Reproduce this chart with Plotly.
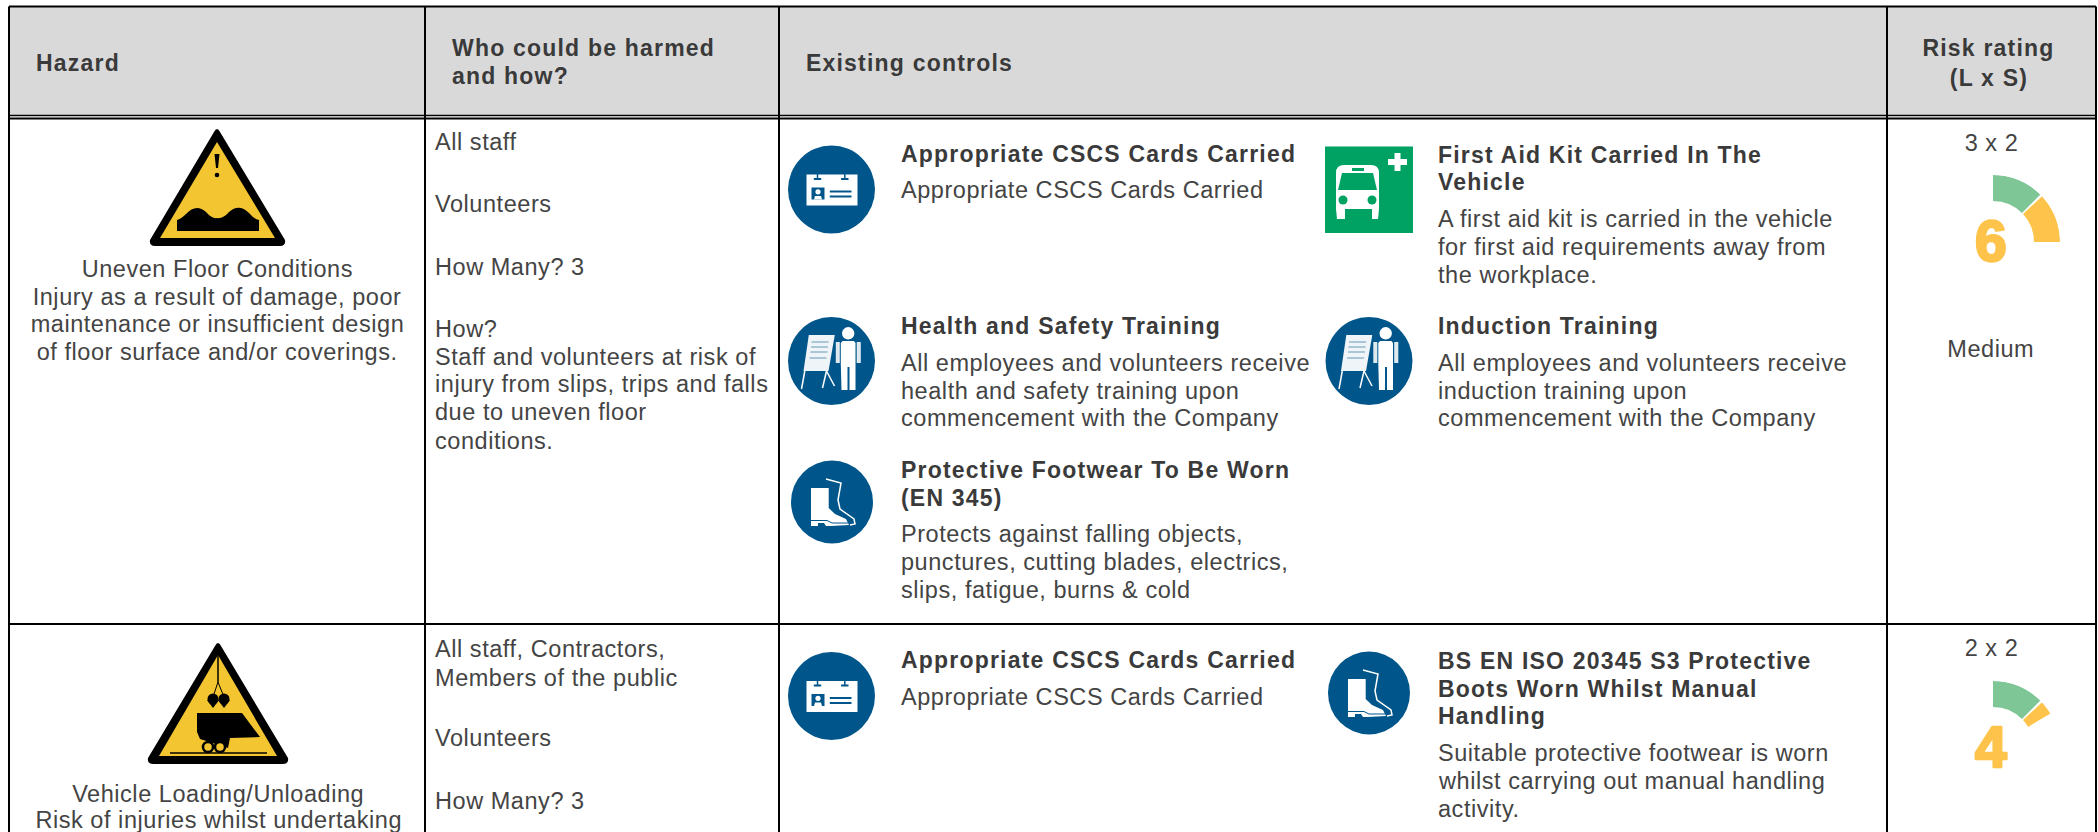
import plotly.graph_objects as go

# ---------- content ----------
header_labels = ["Hazard", "Who could be harmed", "and how?", "Existing controls", "Risk rating", "(L x S)"]
hazard_1 = ["Uneven Floor Conditions", "Injury as a result of damage, poor",
            "maintenance or insufficient design", "of floor surface and/or coverings."]
hazard_2 = ["Vehicle Loading/Unloading", "Risk of injuries whilst undertaking"]
who_1 = ["All staff", "Volunteers", "How Many? 3", "How?", "Staff and volunteers at risk of",
         "injury from slips, trips and falls", "due to uneven floor", "conditions."]
who_2 = ["All staff, Contractors,", "Members of the public", "Volunteers", "How Many? 3"]
control_titles = [["Appropriate CSCS Cards Carried"],
                  ["First Aid Kit Carried In The", "Vehicle"],
                  ["Health and Safety Training"],
                  ["Induction Training"],
                  ["Protective Footwear To Be Worn", "(EN 345)"],
                  ["Appropriate CSCS Cards Carried"],
                  ["BS EN ISO 20345 S3 Protective", "Boots Worn Whilst Manual", "Handling"]]
control_bodies = [["Appropriate CSCS Cards Carried"],
                  ["A first aid kit is carried in the vehicle", "for first aid requirements away from", "the workplace."],
                  ["All employees and volunteers receive", "health and safety training upon", "commencement with the Company"],
                  ["All employees and volunteers receive", "induction training upon", "commencement with the Company"],
                  ["Protects against falling objects,", "punctures, cutting blades, electrics,", "slips, fatigue, burns & cold"],
                  ["Appropriate CSCS Cards Carried"],
                  ["Suitable protective footwear is worn", "whilst carrying out manual handling", "activity."]]
rating_labels = ["3 x 2", "2 x 2"]
rating_scores = ["6", "4"]
rating_words = ["Medium", ""]
gauge_green = [[0, 45], [0, 45]]
gauge_yellow = [[47, 90], [47, 59]]

# ---------- layout constants ----------
W, H = 2098, 832
col_x = [9, 425, 779, 1887, 2096]
top_y, head_y1, head_y2, row_y = 6.5, 115.5, 118.5, 624
INK, BODY, BLUE, GREEN, YELLOW, SAFE, SIGN = "#3a3a3a", "#444444", "#00558a", "#7fc697", "#fec34a", "#00a263", "#f2c531"
BF, TF = 23.5, 23

shapes, annots = [], []


def text(s, x, y, size=BF, color=BODY, bold=False, anchor="left"):
    if s:
        annots.append(dict(text=s, x=x, y=y + (0.8 if size < 40 else 0), xref="x", yref="y", xanchor=anchor,
                           yanchor="middle", align=anchor, showarrow=False, borderpad=0,
                           font=dict(family="Liberation Sans", size=size, color=color, weight=700 if bold else 400)))


def path(d, fill="#ffffff", line=None, width=0):
    shapes.append(dict(type="path", path=d, xref="x", yref="y", fillcolor=fill, layer="above",
                       line=dict(color=line or "rgba(0,0,0,0)", width=width)))


def poly(pts, cx=0, cy=0, fill="#ffffff", closed=True, line=None, width=0):
    d = "M" + " L".join(f"{cx+a:.1f},{cy+b:.1f}" for a, b in pts) + (" Z" if closed else "")
    path(d, fill if closed else "rgba(0,0,0,0)", line, width)


def circle(cx, cy, rx, ry=None, fill="#ffffff", line=None, width=0):
    ry = ry or rx
    shapes.append(dict(type="circle", x0=cx-rx, x1=cx+rx, y0=cy-ry, y1=cy+ry, xref="x", yref="y", layer="above",
                       fillcolor=fill, line=dict(color=line or "rgba(0,0,0,0)", width=width)))


def rect(x0, y0, x1, y1, fill="#ffffff"):
    shapes.append(dict(type="rect", x0=x0, x1=x1, y0=y0, y1=y1, xref="x", yref="y", layer="above",
                       fillcolor=fill, line=dict(width=0)))


def seg(x0, y0, x1, y1, color="#000000", width=2):
    shapes.append(dict(type="line", x0=x0, x1=x1, y0=y0, y1=y1, xref="x", yref="y", layer="above",
                       line=dict(color=color, width=width)))


# ---------- icons ----------
def card_icon(cx, cy):
    circle(cx, cy, 43.5, 44, BLUE)
    rect(cx-25, cy-15, cx+26, cy+16)
    for dx in (-14, 13.3):
        seg(cx+dx, cy-17, cx+dx, cy-11, BLUE, 1.5)
        seg(cx+dx-3.7, cy-10.5, cx+dx+3.7, cy-10.5, BLUE, 2)
    rect(cx-20, cy-2, cx-7, cy+10, BLUE)
    circle(cx-13.5, cy+2.3, 2.6)
    poly([(-17.5, 10), (-16.5, 6.5), (-10.5, 6.5), (-9.5, 10)], cx, cy)
    seg(cx-1.7, cy+2, cx+20, cy+2, BLUE, 2)
    seg(cx-1.7, cy+7, cx+20, cy+7, BLUE, 2)


def trainer_icon(cx, cy):
    circle(cx, cy, 43.5, 44, BLUE)
    poly([(-22.7, -26), (3.3, -26), (-3, 10), (-28, 10)], cx, cy, "#eef4f7")
    for yy, x0, x1 in ((-19, -20, -3), (-14, -20.5, -3.5), (-9, -21, -4), (-3, -22, -5)):
        seg(cx+x0, cy+yy, cx+x1, cy+yy, "#7fa7c0", 1.2)
    seg(cx-26.7, cy+10, cx-30, cy+28, "#ffffff", 1.5)
    seg(cx-5, cy+10, cx-9, cy+27, "#ffffff", 1.5)
    seg(cx-5, cy+10, cx+3, cy+25, "#ffffff", 1.5)
    circle(cx+16.7, cy-27.7, 6.2)
    poly([(11, -20), (22.5, -20), (24, -18), (24, 3), (24, 29), (18, 29), (18, 6), (16, 6), (16, 29), (10, 29), (9.3, 3), (9.3, -18)], cx, cy)
    poly([(4.3, -19), (8.3, -19), (8.3, 2), (4.3, 2)], cx, cy, "#dfeaf0")
    poly([(25.2, -19), (29.3, -19), (29.3, 2), (25.2, 2)], cx, cy, "#dfeaf0")


def boot_icon(cx, cy):
    circle(cx, cy, 41, 41.5, BLUE)
    poly([(-21, -14), (-3.3, -14), (-3.3, 6), (3, 12), (14, 17), (17, 23), (-1, 24), (-6, 24), (-8, 21), (-14, 21), (-14, 24), (-21, 24)], cx, cy)
    poly([(-6, -23), (9, -19), (6, -2), (8, 7), (22, 17), (23, 22), (18, 23)], cx, cy, closed=False, line="#ffffff", width=1.5)
    poly([(-21, 18.5), (-5, 18.5), (0, 21), (16, 21)], cx, cy, closed=False, line=BLUE, width=1)


def triangle(apex, left, right, bottom, inset_top, inset_bottom, inset_l, inset_r):
    ax, ay = apex
    path(f"M{ax-3},{ay+4} Q{ax},{ay-2} {ax+3},{ay+4} L{right},{bottom-6} Q{right+1},{bottom} {right-5},{bottom} "
         f"L{left+5},{bottom} Q{left-1},{bottom} {left},{bottom-6} Z", "#000000")
    poly([(ax, inset_top), (inset_r, inset_bottom), (inset_l, inset_bottom)], fill=SIGN)


# ---------- table frame ----------
shapes.append(dict(type="rect", x0=col_x[0], x1=col_x[-1], y0=top_y, y1=head_y1, xref="x", yref="y", layer="below",
                   fillcolor="#d9d9d9", line=dict(width=0)))
seg(col_x[0], top_y, col_x[-1], top_y)
seg(col_x[0], head_y1, col_x[-1], head_y1, width=1.5)
seg(col_x[0], head_y2, col_x[-1], head_y2, width=2)
seg(col_x[0], row_y, col_x[-1], row_y)
for cx_ in col_x:
    seg(cx_, top_y, cx_, H)

# ---------- header ----------
text(header_labels[0], 35, 62, TF, INK, True)
text(header_labels[1], 451, 47, TF, INK, True)
text(header_labels[2], 451, 75, TF, INK, True)
text(header_labels[3], 805, 62, TF, INK, True)
text(header_labels[4], 1988.5, 47, TF, INK, True, "center")
text(header_labels[5], 1989, 77, TF, INK, True, "center")

# ---------- hazard column ----------
for s, y in zip(hazard_1, (268, 296, 323, 351)):
    text(s, 217, y, anchor="center")
for s, y in zip(hazard_2, (793, 819)):
    text(s, 218, y, anchor="center")

triangle((217, 128), 150, 285, 246, 142, 238, 160, 275)
poly([(-2.5, 26), (2.5, 26), (1, 40), (-1, 40)], 217, 128, "#000000")
circle(217, 175, 2.3, fill="#000000")
path("M177,231 L177,220 Q181,219 186,214 Q196,203 206,212 Q212,219 217,218 Q223,219 229,212 "
     "Q239,203 249,213 Q254,219 259,220 L259,231 Z", "#000000")

triangle((218, 642), 148, 288, 764, 655, 756, 159, 277)
seg(218, 655, 218, 682, "#000000", 1.5)
seg(218, 682, 213, 697, "#000000", 1)
seg(218, 682, 224, 697, "#000000", 1)
poly([(-6, 0), (6, 0), (0, 8)], 213, 700, "#000000")
poly([(-6, 0), (6, 0), (0, 8)], 224, 700, "#000000")
circle(213, 699, 5.5, fill="#000000")
circle(224, 699, 5.5, fill="#000000")
poly([(197, 713), (242, 713), (260, 737), (230, 738), (228, 748), (200, 739), (197, 732)], fill="#000000")
for wx in (208, 220):
    circle(wx, 747, 5, fill=SIGN, line="#000000", width=2.5)
seg(170, 753, 267, 753, "#000000", 1.5)

# ---------- who column ----------
for s, y in zip(who_1, (141, 203, 266, 328, 356, 383, 411, 440)):
    text(s, 433.5, y)
for s, y in zip(who_2, (648, 677, 737, 800)):
    text(s, 433.5, y)

# ---------- controls ----------
left_x, right_x = 899.5, 1437
title_rows = [(153,), (154, 181), (325,), (325,), (469, 497), (659,), (660, 688, 715)]
body_rows = [(189,), (218, 246, 274), (362, 390, 417), (362, 390, 417), (533, 561, 589), (696,), (752, 780, 808)]
control_x = [left_x, right_x, left_x, right_x, left_x, left_x, right_x]
for ts, tys, bs, bys, x in zip(control_titles, title_rows, control_bodies, body_rows, control_x):
    for s, y in zip(ts, tys):
        text(s, x, y, TF, INK, True)
    for s, y in zip(bs, bys):
        text(s, x, y)

card_icon(831.5, 189.5)
trainer_icon(831.5, 361)
trainer_icon(1369, 361)
boot_icon(832, 502)
card_icon(831.5, 696)
boot_icon(1369, 693)

# first-aid vehicle sign
rect(1325, 146.5, 1413, 233, SAFE)
path("M1336,173 Q1336,165 1344,165 L1371,165 Q1379,165 1379,173 L1379,209 L1378,219 L1372,219 L1372,209 "
     "L1345,209 L1345,219 L1337,219 L1336,209 Z")
poly([(1342, 173), (1373, 173), (1377, 190), (1338, 190)], fill=SAFE)
rect(1352, 168, 1364, 171, SAFE)
circle(1343, 200, 4.5, fill=SAFE)
circle(1372, 200, 4.5, fill=SAFE)
rect(1394.5, 153, 1400.5, 171)
rect(1388, 159, 1407, 165)

# ---------- rating column ----------
gauge_centres = [(1993, 242), (1993, 748)]
GAUGE_R, GAUGE_IN = 67, 41
traces = [go.Scatter(x=[0, W], y=[0, H], mode="markers", marker=dict(opacity=0), hoverinfo="skip", showlegend=False)]
polar_layout = {}
for i, ((cx, cy), g, y_, lab, score, word, ys) in enumerate(zip(
        gauge_centres, gauge_green, gauge_yellow, rating_labels, rating_scores, rating_words,
        ((142, 241, 348), (647, 747, 0)))):
    key = "polar" if i == 0 else f"polar{i+1}"
    polar_layout[key] = dict(
        domain=dict(x=[(cx-GAUGE_R)/W, (cx+GAUGE_R)/W], y=[1-(cy+GAUGE_R)/H, 1-(cy-GAUGE_R)/H]),
        bgcolor="rgba(0,0,0,0)",
        radialaxis=dict(visible=False, range=[0, 1]),
        angularaxis=dict(visible=False, direction="clockwise", rotation=90))
    hole = GAUGE_IN / GAUGE_R
    traces.append(go.Barpolar(
        theta=[(g[0]+g[1])/2, (y_[0]+y_[1])/2], width=[g[1]-g[0], y_[1]-y_[0]],
        r=[1-hole, 1-hole], base=[hole, hole], marker=dict(color=[GREEN, YELLOW], line=dict(width=0)),
        subplot=key, showlegend=False, hoverinfo="skip"))
    text(lab, 1991.5, ys[0], anchor="center")
    text(score, 1991, ys[1], 57, YELLOW, True, "center")
    text(word, 1991, ys[2], anchor="center")

fig = go.Figure(traces)
fig.update_layout(
    width=W, height=H, margin=dict(l=0, r=0, t=0, b=0), paper_bgcolor="#ffffff", plot_bgcolor="#ffffff",
    xaxis=dict(visible=False, range=[0, W], fixedrange=True),
    yaxis=dict(visible=False, range=[H, 0], fixedrange=True),
    shapes=shapes, annotations=annots, showlegend=False, **polar_layout)

post = """
document.body.style.margin='0';
document.querySelectorAll('.annotation-text').forEach(function(t){
  var cs=getComputedStyle(t), w=parseInt(cs.fontWeight)||400, s=parseFloat(cs.fontSize);
  if(s>40){ t.style.stroke=cs.fill; t.style.strokeWidth='2.5px'; t.style.strokeLinejoin='round'; return; }
  t.style.letterSpacing = w>=600 ? '1.2px' : '0.55px';
});
"""
fig.write_html("out.html", post_script=post, config=dict(displayModeBar=False))
